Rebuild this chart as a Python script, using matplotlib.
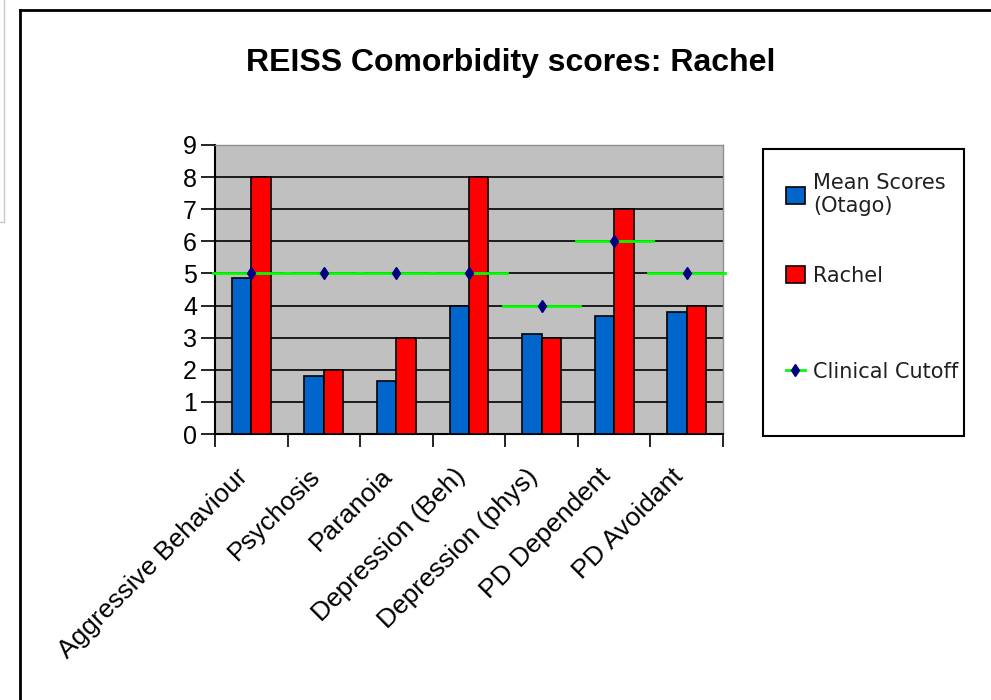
import matplotlib
matplotlib.use("Agg")
import matplotlib.pyplot as plt
from matplotlib.lines import Line2D
from matplotlib.patches import Patch, Rectangle
import matplotlib.transforms as mtransforms
import numpy as np

categories = ["Aggressive Behaviour", "Psychosis", "Paranoia", "Depression (Beh)",
              "Depression (phys)", "PD Dependent", "PD Avoidant"]
mean_scores = [4.85, 1.8, 1.65, 4.0, 3.12, 3.67, 3.8]
rachel = [8, 2, 3, 8, 3, 7, 4]
cutoff = [5, 5, 5, 5, 4, 6, 5]
y_ticks = [0, 1, 2, 3, 4, 5, 6, 7, 8, 9]

plt.rcParams['font.family'] = ['Liberation Sans', 'DejaVu Sans']

W, H = 991, 700
fig = plt.figure(figsize=(W / 100, H / 100), dpi=100)
fig.patch.set_facecolor("white")

# outer frames
fig.add_artist(Line2D([20 / W, 20 / W], [0, 1 - 10 / H], color="black", lw=2, transform=fig.transFigure))
fig.add_artist(Line2D([20 / W, 1], [1 - 10 / H, 1 - 10 / H], color="black", lw=2, transform=fig.transFigure))
fig.add_artist(Line2D([4 / W, 4 / W], [1, 1 - 222 / H], color="#c8c8c8", lw=1, transform=fig.transFigure))
fig.add_artist(Line2D([0, 4 / W], [1 - 222 / H, 1 - 222 / H], color="#c8c8c8", lw=1, transform=fig.transFigure))

left, right, top, bottom = 215, 723, 145, 434
ax = fig.add_axes([left / W, 1 - bottom / H, (right - left) / W, (bottom - top) / H])
ax.set_facecolor("#c0c0c0")

x = np.arange(len(categories))
bw = 0.268
ax.bar(x - bw / 2, mean_scores, bw, color="#0066cc", edgecolor="black", lw=1.2, zorder=3)
ax.bar(x + bw / 2, rachel, bw, color="#ff0000", edgecolor="black", lw=1.2, zorder=3)

for xi, c in zip(x, cutoff):
    ax.plot([xi - 0.53, xi + 0.53], [c, c], color="#00ff00", lw=2, zorder=4, clip_on=False)
ax.plot(x, cutoff, ls="none", marker="d", color="#000080", ms=6, zorder=5)

ax.set_xlim(-0.5, len(categories) - 0.5)
ax.set_ylim(0, 9)
ax.set_yticks(y_ticks)
ax.set_yticklabels([str(t) for t in y_ticks], fontsize=18)
ax.yaxis.grid(True, color="black", lw=1.2, zorder=1)
ax.set_axisbelow(True)
ax.tick_params(axis="y", length=10, width=1.2, pad=3, color="black")

ax.set_xticks(np.arange(len(categories) + 1) - 0.5, minor=False)
ax.set_xticklabels([])
ax.tick_params(axis="x", length=9, width=1.2, color="black")
ax.set_xticks(x, minor=True)
ax.set_xticklabels(categories, minor=True, rotation=45, ha="right", va="top",
                   rotation_mode="anchor", fontsize=19)
ax.tick_params(axis="x", which="minor", length=0, pad=16)
off = mtransforms.ScaledTranslation(-16 / 100, -8 / 100, fig.dpi_scale_trans)
for lab in ax.get_xticklabels(minor=True):
    lab.set_transform(lab.get_transform() + off)

for s in ["left", "bottom"]:
    ax.spines[s].set_color("black")
    ax.spines[s].set_linewidth(1.5)
for s in ["top", "right"]:
    ax.spines[s].set_color("#909090")
    ax.spines[s].set_linewidth(1)

fig.text(511 / W, 1 - 63 / H, "REISS Comorbidity scores: Rachel", ha="center", va="center",
         fontsize=23, fontweight="bold")

# legend frame
fig.add_artist(Rectangle((763 / W, 1 - 436 / H), (964 - 763) / W, (436 - 149) / H,
                         transform=fig.transFigure, fill=False, edgecolor="black", lw=1.5))

handles = [
    Patch(facecolor="#0066cc", edgecolor="black", lw=1.2),
    Patch(facecolor="#ff0000", edgecolor="black", lw=1.2),
    Line2D([], [], color="#00ff00", lw=2, marker="d", mfc="#000080", mec="#000080", ms=6),
]
labels = ["Mean Scores\n(Otago)", "Rachel", "Clinical Cutoff"]
ypos = [187, 280, 376]
for h, l, yp in zip(handles, labels, ypos):
    leg = fig.legend([h], [l], loc="upper left",
                     bbox_to_anchor=(786 / W, 1 - (yp - 14) / H), bbox_transform=fig.transFigure,
                     frameon=False, prop={"family": ["DejaVu Sans"], "size": 15},
                     handlelength=0.9, handleheight=0.9, handletextpad=0.4,
                     borderpad=0, borderaxespad=0)
    for t in leg.get_texts():
        t.set_color("#202020")

fig.savefig("out.png", dpi=100, facecolor="white")
